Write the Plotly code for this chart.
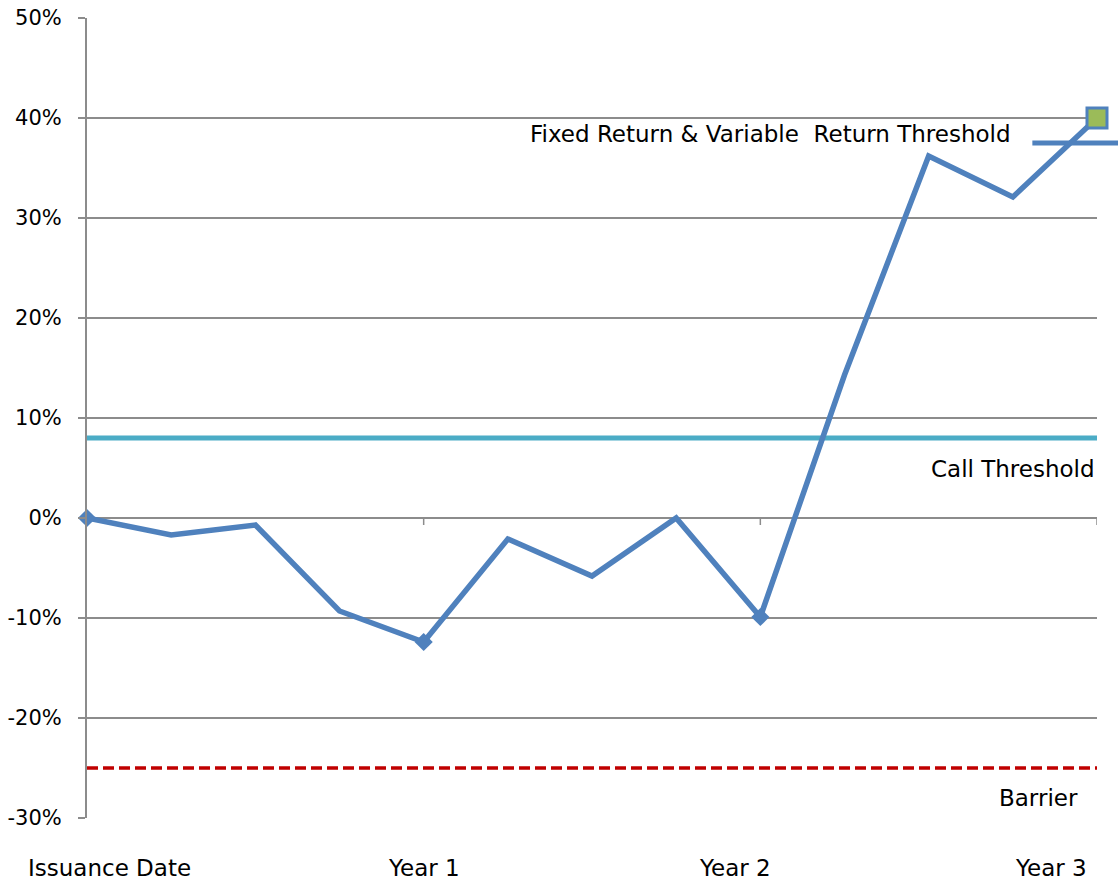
import plotly.graph_objects as go

quarters = list(range(13))
perf = [0, -1.7, -0.7, -9.3, -12.4, -2.1, -5.8, 0, -9.9, 14.3, 36.2, 32.1, 40]
year_pos = [0, 4, 8]
year_vals = [0, -12.4, -9.9]
x_labels = ["Issuance Date", "Year 1", "Year 2", "Year 3"]
x_label_pos = [0.27, 4.0, 7.7, 11.45]
call_threshold = 8
barrier = -25
fixed_threshold = 37.5
final_point = 40
y_ticks = [-30, -20, -10, 0, 10, 20, 30, 40, 50]

FONT = "DejaVu Sans"
BLUE = "#4F81BD"
GRID = "#8C8C8C"
LBL = 23

fig = go.Figure()

# call threshold
fig.add_trace(go.Scatter(x=[0, 12], y=[call_threshold] * 2, mode="lines",
                         line=dict(color="#4BACC6", width=5), hoverinfo="skip"))
# barrier
fig.add_trace(go.Scatter(x=[0, 12], y=[barrier] * 2, mode="lines",
                         line=dict(color="#C00000", width=3.5, dash="11px,5px"),
                         hoverinfo="skip"))
# performance
fig.add_trace(go.Scatter(x=quarters, y=perf, mode="lines",
                         line=dict(color=BLUE, width=5.5)))
fig.add_trace(go.Scatter(x=year_pos, y=year_vals, mode="markers",
                         marker=dict(symbol="diamond", size=14, color=BLUE),
                         cliponaxis=False))
# fixed return threshold line (extends past plot edge)
fig.add_shape(type="line", xref="paper", yref="y", x0=0.936, x1=1.03,
              y0=fixed_threshold, y1=fixed_threshold,
              line=dict(color=BLUE, width=5))
fig.add_trace(go.Scatter(x=[12], y=[final_point], mode="markers",
                         marker=dict(symbol="square", size=20, color="#9BBB59",
                                     line=dict(color=BLUE, width=3)),
                         cliponaxis=False))

# small ticks on the 0% line at year positions
for xv in [4, 8, 12]:
    fig.add_shape(type="line", xref="x", yref="y", x0=xv, x1=xv, y0=0, y1=-0.7,
                  line=dict(color=GRID, width=1.5), layer="below")

for txt, xp in zip(x_labels, x_label_pos):
    fig.add_annotation(x=xp, y=0, xref="x", yref="paper", yshift=-50,
                       xanchor="center", yanchor="middle",
                       text=txt, showarrow=False,
                       font=dict(family=FONT, size=LBL, color="#000"))

fig.add_annotation(x=12, y=call_threshold, xref="x", yref="y", yshift=-31,
                   xanchor="right", yanchor="middle", text="Call Threshold",
                   showarrow=False, font=dict(family=FONT, size=LBL, color="#000"))
fig.add_annotation(x=11.8, y=barrier, xref="x", yref="y", yshift=-30,
                   xanchor="right", yanchor="middle", text="Barrier",
                   showarrow=False, font=dict(family=FONT, size=LBL, color="#000"))
fig.add_annotation(x=11.0, y=final_point, xref="x", yref="y", yshift=-16,
                   xanchor="right", yanchor="middle",
                   text="Fixed Return &amp; Variable  Return Threshold",
                   showarrow=False, font=dict(family=FONT, size=LBL, color="#000"))

fig.update_layout(
    width=1118, height=888,
    margin=dict(l=87, r=21, t=18, b=70, autoexpand=False),
    paper_bgcolor="white", plot_bgcolor="white",
    showlegend=False,
    font=dict(family=FONT, size=LBL, color="#000"),
)
fig.update_xaxes(range=[0, 12], showgrid=False, zeroline=False, showticklabels=False,
                 showline=False, fixedrange=True, automargin=False)
fig.update_yaxes(range=[-30, 50], tickvals=y_ticks,
                 ticktext=[f"{v}%" for v in y_ticks],
                 showgrid=True, gridcolor=GRID, gridwidth=2,
                 zeroline=False, showline=True, linecolor=GRID, linewidth=2,
                 ticks="outside", ticklen=7, tickcolor=GRID, tickwidth=2,
                 ticklabelstandoff=12, automargin=False,
                 tickfont=dict(family=FONT, size=21, color="#000"))

fig.write_html("out.html", config={"displayModeBar": False},
               post_script="document.body.style.margin='0';")
